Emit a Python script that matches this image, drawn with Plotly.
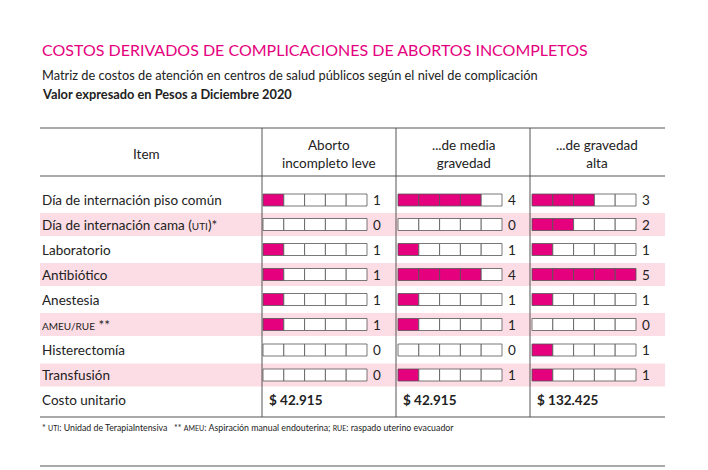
import plotly.graph_objects as go

# data
items = ['Día de internación piso común', 'Día de internación cama (<span style="font-size:10px">UTI</span>)*',
         'Laboratorio', 'Antibiótico', 'Anestesia', '<span style="font-size:10px">AMEU/RUE</span> **',
         'Histerectomía', 'Transfusión']
columns = ['Aborto<br>incompleto leve', '...de media<br>gravedad', '...de gravedad<br>alta']
leve = [1, 0, 1, 1, 1, 1, 0, 0]
media = [4, 0, 1, 4, 1, 1, 0, 1]
alta = [3, 2, 1, 5, 1, 0, 1, 1]
costos = ['$ 42.915', '$ 42.915', '$ 132.425']

series = [leve, media, alta]
PINK = '#e5007e'
BAND = '#fddde5'
FONT = 'Lato'

row_y = [200, 224.5, 249.5, 274.5, 299.5, 324.5, 350, 375]
col_x0 = [263, 398, 532]   # first box left edge
col_line = [262, 396, 530]
box_w = 20.8
box_h = 12

fig = go.Figure()
shapes = []
ann = []

# pink bands on alternate rows
for i, y in enumerate(row_y):
    if i % 2 == 1:
        shapes.append(dict(type='rect', x0=40, x1=665, y0=y - 11.5, y1=y + 11.5,
                           fillcolor=BAND, line_width=0, layer='below'))

# boxes
for c, vals in enumerate(series):
    for i, v in enumerate(vals):
        y = row_y[i]
        for k in range(5):
            x0 = col_x0[c] + k * box_w
            shapes.append(dict(type='rect', x0=x0, x1=x0 + box_w, y0=y - box_h / 2, y1=y + box_h / 2,
                               fillcolor=PINK if k < v else 'white',
                               line=dict(color='#555555', width=0.8)))
        ann.append(dict(x=col_x0[c] + 5 * box_w + 10, y=y, text=str(v), xanchor='center',
                        font=dict(size=13.5, color='#222')))

# row labels
for i, t in enumerate(items):
    ann.append(dict(x=40, y=row_y[i], text=t, xanchor='left', font=dict(size=13.5, color='#222')))
ann.append(dict(x=40, y=400, text='Costo unitario', xanchor='left', font=dict(size=13.5, color='#222')))
for c, t in enumerate(costos):
    ann.append(dict(x=col_line[c] + 5, y=400, text='<b>' + t + '</b>', xanchor='left',
                    font=dict(size=13.5, color='#222')))

# header
ann.append(dict(x=146, y=154, text='Item', xanchor='center', font=dict(size=13.5, color='#222')))
for c, t in enumerate(columns):
    ann.append(dict(x=col_line[c] + 67, y=154, text=t, xanchor='center', font=dict(size=13.5, color='#222')))

# lines
for y0, y1 in [(128, 128), (176, 176), (417, 417), (466, 466)]:
    shapes.append(dict(type='line', x0=40, x1=665, y0=y0, y1=y1, line=dict(color='#555', width=1.2)))
for x in col_line:
    shapes.append(dict(type='line', x0=x, x1=x, y0=128, y1=417, line=dict(color='#555', width=1)))

# titles
ann.append(dict(x=40, y=49, text='COSTOS DERIVADOS DE COMPLICACIONES DE ABORTOS INCOMPLETOS', xanchor='left',
                font=dict(size=16, color=PINK)))
ann.append(dict(x=40, y=75, text='Matriz de costos de atención en centros de salud públicos según el nivel de complicación',
                xanchor='left', font=dict(size=12.8, color='#222')))
ann.append(dict(x=40, y=94, text='<b>Valor expresado en Pesos a Diciembre 2020</b>', xanchor='left',
                font=dict(size=12.8, color='#222')))
ann.append(dict(x=40, y=427, text='* <span style="font-size:7px">UTI</span>: Unidad de TerapiaIntensiva   ** '
                '<span style="font-size:7px">AMEU</span>: Aspiración manual endouterina; '
                '<span style="font-size:7px">RUE</span>: raspado uterino evacuador',
                xanchor='left', font=dict(size=8.8, color='#222')))

for a in ann:
    a.update(showarrow=False, xref='x', yref='y', yanchor='middle')

# page has an 8px body offset, so shift the coordinate window to compensate
fig.update_layout(
    width=708, height=470,
    margin=dict(l=0, r=0, t=0, b=0),
    paper_bgcolor='white', plot_bgcolor='white',
    font=dict(family=FONT),
    xaxis=dict(range=[8, 716], visible=False, fixedrange=True),
    yaxis=dict(range=[478, 8], visible=False, fixedrange=True),
    shapes=shapes, annotations=ann, showlegend=False
)

fig.write_html("out.html")
